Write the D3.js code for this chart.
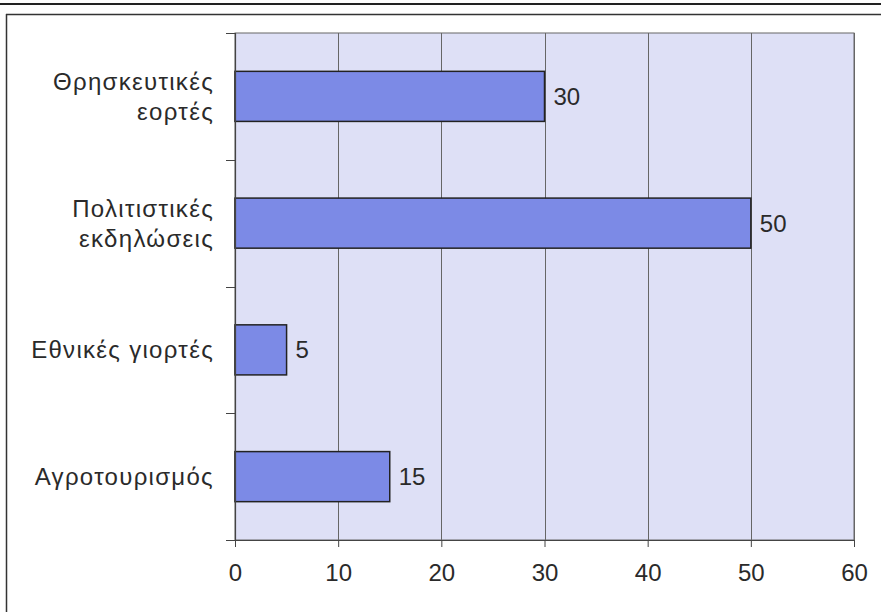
<!DOCTYPE html>
<html>
<head>
<meta charset="utf-8">
<script src="https://cdn.jsdelivr.net/npm/d3@7"></script>
<style>
  html, body { margin: 0; padding: 0; background: #fff; }
  svg { display: block; font-family: "Liberation Sans", Arial, sans-serif; }
</style>
</head>
<body>
<svg id="chart" width="881" height="612"></svg>
<script>
// Categories (top to bottom), each label split into its display lines
const categories = ["Θρησκευτικές εορτές", "Πολιτιστικές εκδηλώσεις", "Εθνικές γιορτές", "Αγροτουρισμός"];
const categoryLines = [["Θρησκευτικές", "εορτές"], ["Πολιτιστικές", "εκδηλώσεις"], ["Εθνικές γιορτές"], ["Αγροτουρισμός"]];
const values = [30, 50, 5, 15];
const xTicks = [0, 10, 20, 30, 40, 50, 60];

const svg = d3.select("#chart");
const W = 881, H = 612;
const margin = { left: 235, right: 27, top: 33, bottom: 72 };
const plotW = W - margin.left - margin.right;
const plotH = H - margin.top - margin.bottom;
const FONT = 24;
const INK = "#2a2a2a";

// Outer frame
svg.append("line").attr("x1", 0).attr("x2", W).attr("y1", 4).attr("y2", 4)
  .attr("stroke", "#222").attr("stroke-width", 2);
svg.append("line").attr("x1", 6).attr("x2", W).attr("y1", 14.5).attr("y2", 14.5)
  .attr("stroke", "#333").attr("stroke-width", 1.5);
svg.append("line").attr("x1", 6.5).attr("x2", 6.5).attr("y1", 14).attr("y2", H)
  .attr("stroke", "#333").attr("stroke-width", 1.5);

const g = svg.append("g").attr("transform", `translate(${margin.left},${margin.top})`);

const x = d3.scaleLinear().domain([0, 60]).range([0, plotW]);
const y = d3.scaleBand().domain(categories).range([0, plotH]).paddingInner(0.605).paddingOuter(0.3025);

// Plot background
g.append("rect").attr("x", 0).attr("y", 0).attr("width", plotW).attr("height", plotH)
  .attr("fill", "#dee0f6").attr("stroke", "#666").attr("stroke-width", 1);

// Vertical gridlines
g.append("g").selectAll("line").data(xTicks.slice(1)).join("line")
  .attr("x1", d => Math.round(x(d)) + 0.5).attr("x2", d => Math.round(x(d)) + 0.5)
  .attr("y1", 0).attr("y2", plotH)
  .attr("stroke", "#666").attr("stroke-width", 1);

// Bars
g.append("g").selectAll("rect").data(values).join("rect")
  .attr("x", x(0))
  .attr("y", (d, i) => y(categories[i]))
  .attr("width", d => x(d) - x(0))
  .attr("height", y.bandwidth())
  .attr("fill", "#7c8ae6")
  .attr("stroke", "#222").attr("stroke-width", 1.5);

// Value labels
g.append("g").selectAll("text").data(values).join("text")
  .attr("x", d => x(d) + 9)
  .attr("y", (d, i) => y(categories[i]) + y.bandwidth() / 2)
  .attr("dy", "0.35em")
  .attr("font-size", FONT).attr("fill", INK)
  .text(d => d);

// X axis
const xAxis = g.append("g").attr("transform", `translate(0,${plotH})`)
  .call(d3.axisBottom(x).tickValues(xTicks).tickSize(7).tickPadding(17));
xAxis.select(".domain").attr("stroke", "#444");
xAxis.selectAll(".tick line").attr("stroke", "#444");
xAxis.selectAll("text").attr("font-size", FONT).attr("fill", INK)
  .attr("font-family", "'Liberation Sans', Arial, sans-serif");

// Y axis: line with ticks at the band boundaries
const step = plotH / categories.length;
const bounds = d3.range(categories.length + 1).map(i => i * step);
g.append("line").attr("x1", 0.5).attr("x2", 0.5).attr("y1", 0).attr("y2", plotH)
  .attr("stroke", "#444").attr("stroke-width", 1.2);
g.append("g").selectAll("line").data(bounds).join("line")
  .attr("x1", -9).attr("x2", 0)
  .attr("y1", d => Math.round(d) + 0.5).attr("y2", d => Math.round(d) + 0.5)
  .attr("stroke", "#444");

// Category labels
const lineH = 30;
const labels = g.append("g").selectAll("text").data(categoryLines).join("text")
  .attr("text-anchor", "end")
  .attr("font-size", FONT).attr("fill", INK)
  .attr("letter-spacing", "1.3px")
  .attr("y", (d, i) => y(categories[i]) + y.bandwidth() / 2);
labels.each(function(lines) {
  const t = d3.select(this);
  const off = -(lines.length - 1) * lineH / 2;
  lines.forEach((s, j) => {
    t.append("tspan").attr("x", -21)
      .attr("dy", j === 0 ? (off / FONT + 0.35) + "em" : lineH + "px").text(s);
  });
});
</script>
</body>
</html>
